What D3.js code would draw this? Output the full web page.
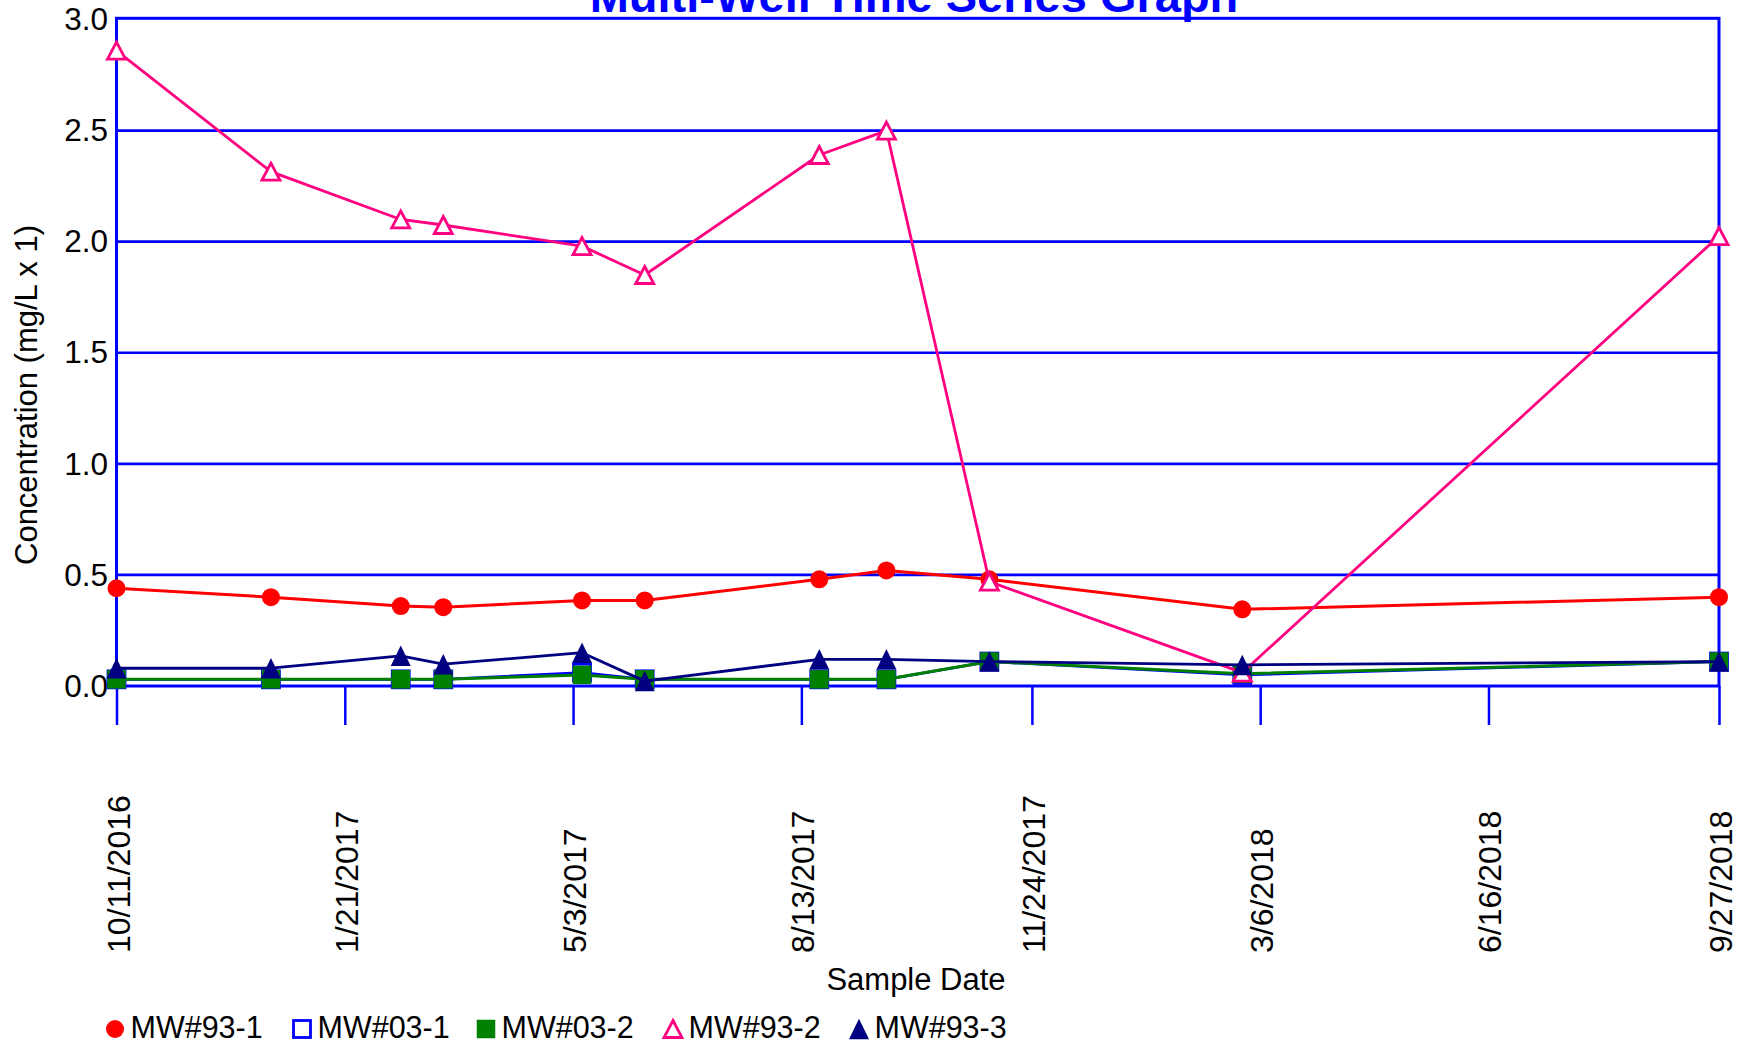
<!DOCTYPE html>
<html>
<head>
<meta charset="utf-8">
<script src="https://cdn.jsdelivr.net/npm/d3@7"></script>
<style>
  html, body { margin: 0; padding: 0; background: #fff; overflow: hidden; }
  text { font-family: "Liberation Sans", Arial, sans-serif; }
</style>
</head>
<body>
<svg id="chart" width="1747" height="1045"></svg>
<script>
// ---- Data ----
const sampleDates = ["2016-10-11","2016-12-19","2017-02-15","2017-03-06","2017-05-07","2017-06-04","2017-08-21","2017-09-20","2017-11-05","2018-02-26","2018-09-27"];
const mw93_1 = [0.44, 0.40, 0.36, 0.355, 0.385, 0.385, 0.48, 0.52, 0.48, 0.345, 0.40];
const mw03_1 = [0.03, 0.03, 0.03, 0.03, 0.06, 0.03, 0.03, 0.03, 0.11, 0.05, 0.11];
const mw03_2 = [0.03, 0.03, 0.03, 0.03, 0.05, 0.03, 0.03, 0.03, 0.11, 0.055, 0.11];
const mw93_2 = [2.86, 2.315, 2.10, 2.075, 1.98, 1.85, 2.39, 2.50, 0.47, 0.06, 2.025];
const mw93_3 = [0.08, 0.08, 0.136, 0.098, 0.15, 0.022, 0.12, 0.12, 0.11, 0.095, 0.11];
const xTickLabels = ["10/11/2016","1/21/2017","5/3/2017","8/13/2017","11/24/2017","3/6/2018","6/16/2018","9/27/2018"];
const yTickValues = [0.0, 0.5, 1.0, 1.5, 2.0, 2.5, 3.0];
const seriesNames = ["MW#93-1","MW#03-1","MW#03-2","MW#93-2","MW#93-3"];
const seriesValues = [mw93_1, mw03_1, mw03_2, mw93_2, mw93_3];

(function () {
// ---- Styles ----
const styles = [
  {color:"#ff0000", marker:"circle", filled:true,  lw:3},
  {color:"#0000ff", marker:"square", filled:false, lw:2.8},
  {color:"#008000", marker:"square", filled:true,  lw:3},
  {color:"#ff0080", marker:"triangle", filled:false, lw:2.8},
  {color:"#000080", marker:"triangle", filled:true, lw:2.8}
];
const BLUE = "#0000ff";

const parse = d3.timeParse("%Y-%m-%d");
const parseTick = d3.timeParse("%m/%d/%Y");
const dates = sampleDates.map(parse);
const tickDates = xTickLabels.map(parseTick);

const pLeft = 116.5, pRight = 1719, pTop = 19.5, pBottom = 686;
const svg = d3.select("#chart");

const x = d3.scaleTime().domain([tickDates[0], tickDates[tickDates.length-1]]).range([pLeft, pRight]);
const y = d3.scaleLinear().domain([0, 3]).range([pBottom, pTop]);

// Title (partially clipped at top as in reference)
svg.append("text")
  .attr("x", 914).attr("y", 12)
  .attr("text-anchor", "middle")
  .attr("font-size", 47).attr("font-weight", "bold")
  .attr("fill", BLUE)
  .text("Multi-Well Time Series Graph");

// Gridlines
svg.append("g").selectAll("line")
  .data(yTickValues.filter(v => v > 0 && v < 3))
  .join("line")
  .attr("x1", pLeft).attr("x2", pRight)
  .attr("y1", d => y(d)).attr("y2", d => y(d))
  .attr("stroke", BLUE).attr("stroke-width", 2.6);

// Frame
svg.append("rect")
  .attr("x", pLeft).attr("y", pTop - 1.2)
  .attr("width", pRight - pLeft).attr("height", pBottom - pTop + 1.2)
  .attr("fill", "none").attr("stroke", BLUE).attr("stroke-width", 3);

// Y axis labels
svg.append("g").selectAll("text")
  .data(yTickValues)
  .join("text")
  .attr("x", 108).attr("y", d => y(d))
  .attr("dy", "0.34em")
  .attr("text-anchor", "end")
  .attr("font-size", 31.5).attr("fill", "#000")
  .text(d => d.toFixed(1));

// X axis ticks via d3 axis
const xAxis = d3.axisBottom(x).tickValues(tickDates).tickSize(39).tickFormat("");
const gx = svg.append("g").attr("transform", `translate(0,${pBottom})`).call(xAxis);
gx.select(".domain").remove();
gx.selectAll(".tick line").attr("stroke", BLUE).attr("stroke-width", 2.5);

// X tick labels rotated
svg.append("g").selectAll("text")
  .data(tickDates)
  .join("text")
  .attr("transform", d => `translate(${x(d) + 13},953) rotate(-90)`)
  .attr("text-anchor", "start")
  .attr("font-size", 32).attr("fill", "#000")
  .text((d, i) => xTickLabels[i]);

// Axis titles
svg.append("text")
  .attr("x", 916).attr("y", 990)
  .attr("text-anchor", "middle")
  .attr("font-size", 31).attr("fill", "#000")
  .text("Sample Date");

svg.append("text")
  .attr("transform", `translate(37,395) rotate(-90)`)
  .attr("text-anchor", "middle")
  .attr("font-size", 31).attr("fill", "#000")
  .text("Concentration (mg/L x 1)");

// Marker drawing
function drawMarker(g, type, cx, cy, st) {
  if (type === "circle") {
    g.append("circle").attr("cx", cx).attr("cy", cy).attr("r", 9)
      .attr("fill", st.color);
  } else if (type === "square") {
    const s = st.filled ? 18.5 : 17;
    g.append("rect").attr("x", cx - s/2).attr("y", cy - s/2).attr("width", s).attr("height", s)
      .attr("fill", st.filled ? st.color : "#fff")
      .attr("stroke", st.filled ? "none" : st.color)
      .attr("stroke-width", st.filled ? 0 : 2.8);
  } else {
    const w = st.filled ? 20 : 18, h = st.filled ? 20.5 : 17;
    const p = `M${cx},${cy - h/2} L${cx + w/2},${cy + h/2} L${cx - w/2},${cy + h/2} Z`;
    g.append("path").attr("d", p)
      .attr("fill", st.filled ? st.color : "#fff")
      .attr("stroke", st.filled ? "none" : st.color)
      .attr("stroke-width", st.filled ? 0 : 2.8)
      .attr("stroke-linejoin", "miter");
  }
}

// Series
const line = d3.line().x(d => x(d.date)).y(d => y(d.v));
seriesValues.forEach((vals, si) => {
  const st = styles[si];
  const pts = vals.map((v, i) => ({date: dates[i], v}));
  const g = svg.append("g");
  g.append("path").datum(pts).attr("d", line)
    .attr("fill", "none").attr("stroke", st.color).attr("stroke-width", st.lw)
    .attr("stroke-linejoin", "round");
  pts.forEach(p => drawMarker(g, st.marker, x(p.date), y(p.v), st));
});

// Legend
const legendX = [115, 302, 486, 673, 859];
seriesNames.forEach((name, i) => {
  const g = svg.append("g");
  drawMarker(g, styles[i].marker, legendX[i], 1029, styles[i]);
  g.append("text").attr("x", legendX[i] + 15.5).attr("y", 1037.5)
    .attr("font-size", 30.5).attr("fill", "#000").text(name);
});
})();
</script>
</body>
</html>
